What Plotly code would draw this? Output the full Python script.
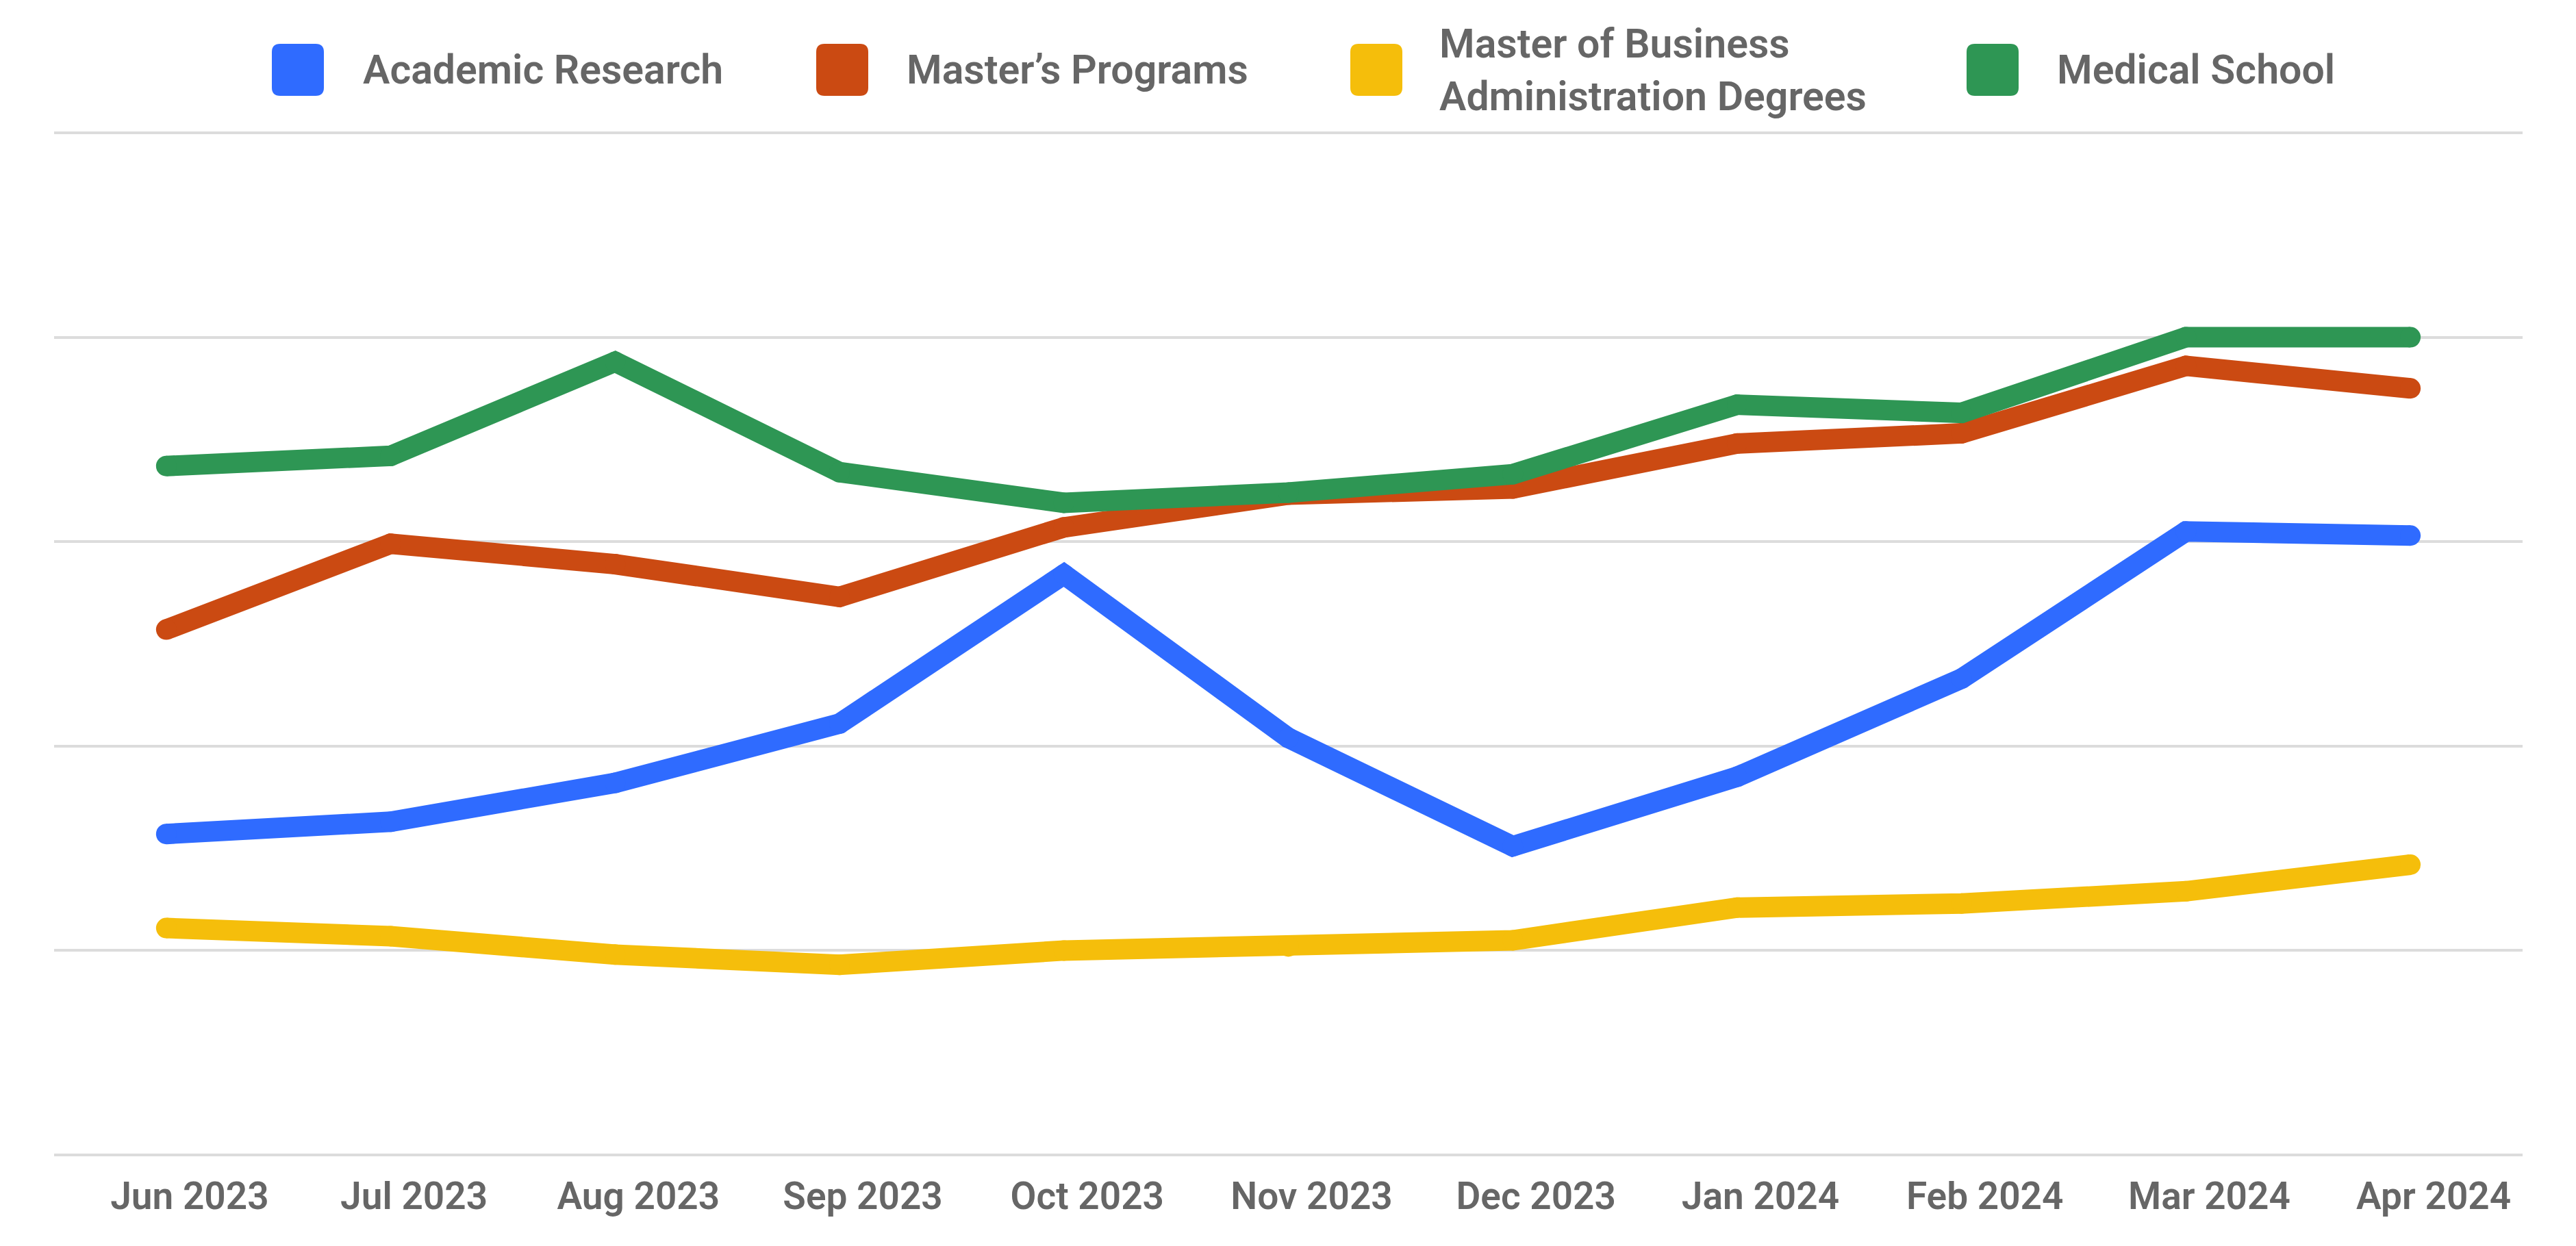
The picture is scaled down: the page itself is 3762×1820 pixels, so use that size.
import plotly.graph_objects as go

months = ["Jun 2023", "Jul 2023", "Aug 2023", "Sep 2023", "Oct 2023", "Nov 2023",
          "Dec 2023", "Jan 2024", "Feb 2024", "Mar 2024", "Apr 2024"]

academic_research = [1.57, 1.63, 1.82, 2.11, 2.84, 2.04, 1.51, 1.85, 2.33, 3.05, 3.03]
masters_programs = [2.57, 2.99, 2.89, 2.73, 3.07, 3.23, 3.26, 3.48, 3.53, 3.86, 3.75]
mba_degrees = [1.11, 1.07, 0.98, 0.93, 1.00, 1.02, 1.05, 1.21, 1.23, 1.29, 1.42]
medical_school = [3.37, 3.42, 3.88, 3.34, 3.19, 3.24, 3.33, 3.67, 3.63, 4.00, 4.00]

series_names = ["Academic Research", "Master\u2019s Programs",
                "Master of Business<br>Administration Degrees", "Medical School"]
series_values = [academic_research, masters_programs, mba_degrees, medical_school]
colors = ["#2F6BFF", "#CB4A12", "#F5BE0B", "#2E9654"]

W, H = 3762, 1820
OFF = 8  # page body margin offset
PAD = 4  # keep edge gridlines inside the plot
L = 79 - OFF
R = W - (3684 - OFF)
T = 194 - OFF - PAD
B = H - (1687 - OFF) - PAD
PW, PH = W - L - R, H - T - B
unit = (1687 - 194) / 5.0
ypad = PAD / unit

FONT = "Roboto"
TXT = "#666666"

fig = go.Figure()
for name, vals, col in zip(series_names, series_values, colors):
    fig.add_trace(go.Scatter(
        x=months, y=vals, mode="lines+markers", name=name.replace("<br>", " "),
        line=dict(color=col, width=30),
        marker=dict(color=col, size=30, line=dict(width=0)),
        showlegend=False,
    ))

def px2paper_x(px):
    return (px - OFF - L) / PW

def px2paper_y(py):
    return (H - B - (py - OFF)) / PH

def rounded_rect(w, h, r):
    hw, hh = w / 2, h / 2
    return (f"M {-hw + r},{-hh} L {hw - r},{-hh} Q {hw},{-hh} {hw},{-hh + r} "
            f"L {hw},{hh - r} Q {hw},{hh} {hw - r},{hh} L {-hw + r},{hh} "
            f"Q {-hw},{hh} {-hw},{hh - r} L {-hw},{-hh + r} Q {-hw},{-hh} {-hw + r},{-hh} Z")

# manual legend (page pixel positions)
swatch_cx = [435, 1230, 2010, 2910]
text_x = [528, 1322, 2100, 3002]
legend_cy = 102
shapes = []
annotations = []
for i, (name, col) in enumerate(zip(series_names, colors)):
    shapes.append(dict(
        type="path", xref="paper", yref="paper",
        xsizemode="pixel", ysizemode="pixel",
        xanchor=px2paper_x(swatch_cx[i]), yanchor=px2paper_y(legend_cy),
        path=rounded_rect(76, 76, 12), fillcolor=col, line=dict(width=0),
    ))
    annotations.append(dict(
        text=name, xref="paper", yref="paper",
        x=px2paper_x(text_x[i]), y=px2paper_y(legend_cy),
        xanchor="left", yanchor="middle", align="left", showarrow=False,
        font=dict(family=FONT, size=59, color=TXT, weight=600),
    ))

fig.update_layout(
    width=W, height=H,
    margin=dict(l=L, r=R, t=T, b=B, pad=0),
    paper_bgcolor="white", plot_bgcolor="white",
    showlegend=False,
    shapes=shapes, annotations=annotations,
    xaxis=dict(
        type="category", range=[-0.5, 10.5],
        showgrid=False, zeroline=False, showline=False,
        ticks="outside", ticklen=8, tickcolor="rgba(0,0,0,0)",
        ticklabelshift=34,
        tickfont=dict(family=FONT, size=55, color=TXT, weight=600),
    ),
    yaxis=dict(
        range=[-ypad, 5 + ypad], dtick=1, tick0=0,
        showgrid=True, gridcolor="#DCDCDC", gridwidth=4,
        zeroline=False, showline=False, showticklabels=False,
    ),
)

fig.write_html("out.html")
